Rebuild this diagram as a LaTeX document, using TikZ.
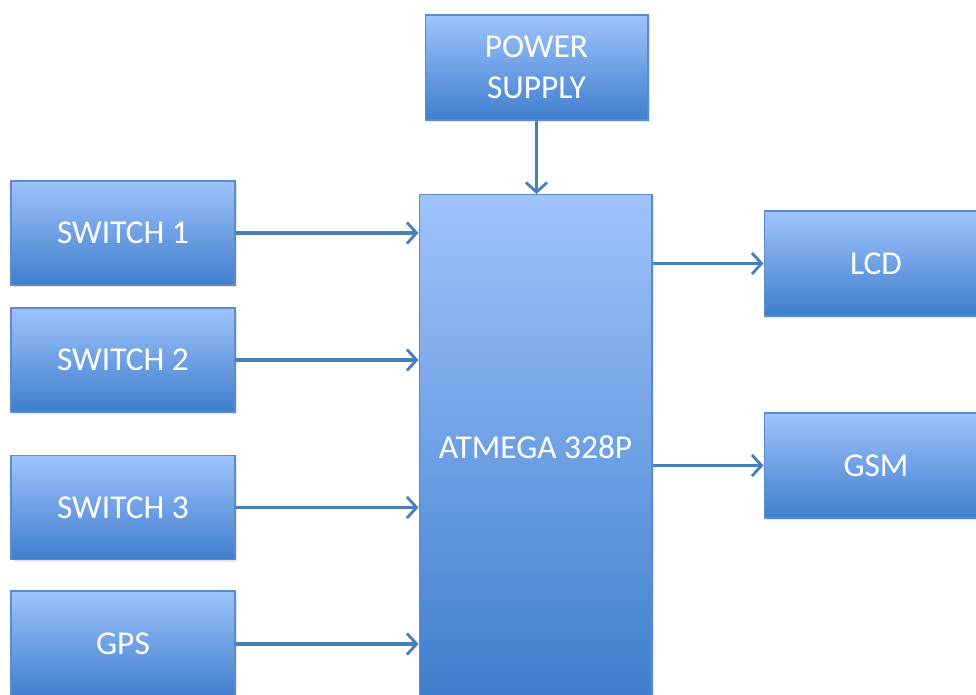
\documentclass[tikz,border=0pt]{standalone}
\usepackage{xcolor}
\usepackage{fontspec}
\setmainfont{Carlito}
\usepackage{tikz}
\usetikzlibrary{arrows.meta,shadows}
\definecolor{blktop}{HTML}{9EC3FC}
\definecolor{blkbot}{HTML}{3F7ECD}
\definecolor{blkedge}{HTML}{5B8BC8}
\definecolor{wire}{HTML}{4A7EBB}

\begin{document}
\begin{tikzpicture}[x=0.02cm,y=-0.02cm,
    blk/.style={draw=blkedge,line width=0.6pt,top color=blktop,bottom color=blkbot,text=white,
      minimum width=4.48cm,minimum height=2.08cm,align=center,inner sep=0pt,
      font=\fontsize{19}{23.5}\selectfont,
      drop shadow={opacity=0.2,shadow xshift=0.05cm,shadow yshift=-0.05cm}},
    wire/.style={draw=wire,line width=2pt,-{Straight Barb[length=5.5pt,width=12pt,line width=1.6pt]}}]
    \useasboundingbox (0,0) rectangle (976,695);
    \clip (0,0) rectangle (976,695);
    \node[blk,minimum width=4.46cm,minimum height=2.1cm](pwr) at (536.5,67.5){POWER\\SUPPLY};
    \node[blk,minimum width=4.66cm,minimum height=10.1cm](mcu) at (535.5,447){ATMEGA 328P};
    \node[blk](sw1) at (123,233){SWITCH 1};
    \node[blk](sw2) at (123,360){SWITCH 2};
    \node[blk](sw3) at (123,507.5){SWITCH 3};
    \node[blk,minimum height=2.12cm](gps) at (123,644){GPS};
    \node[blk,minimum height=2.1cm](lcd) at (876,263.5){LCD};
    \node[blk,minimum height=2.1cm](gsm) at (876,465.5){GSM};
    \draw[wire] (pwr.south) -- (pwr.south |- mcu.north);
    \foreach \src in {sw1,sw2,sw3,gps}
      \draw[wire] (\src.east) -- (\src.east -| mcu.west);
    \draw[wire] (mcu.east |- lcd.west) -- (lcd.west);
    \draw[wire] (mcu.east |- gsm.west) -- (gsm.west);
\end{tikzpicture}
\end{document}
